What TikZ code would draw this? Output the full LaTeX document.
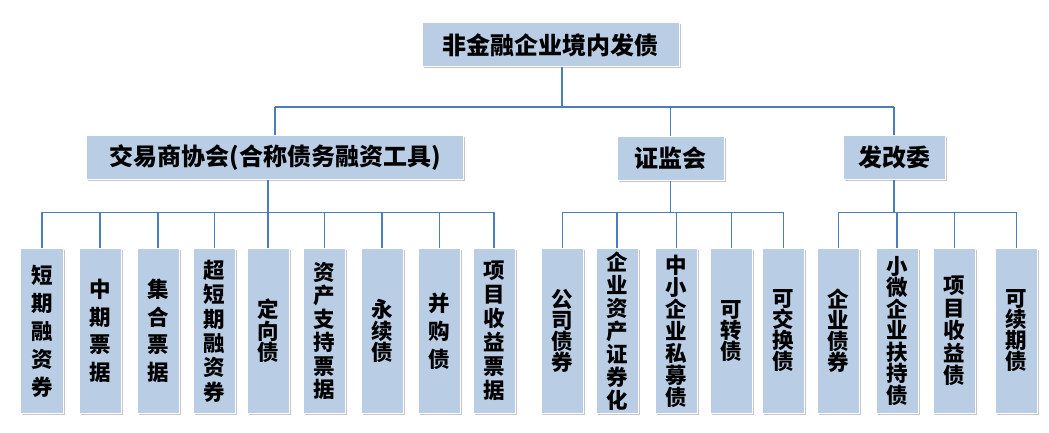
\documentclass[tikz,border=0pt]{standalone}
\usepackage{fontspec}
\newfontfamily\cjk{Noto Sans CJK SC}
\usetikzlibrary{shadows}
\definecolor{boxfill}{HTML}{B9CDE5}
\definecolor{linkblue}{HTML}{4A7EBB}
\tikzset{
  box/.style={fill=boxfill, draw=white, line width=1bp, inner sep=0pt,
    drop shadow={shadow xshift=1.5bp, shadow yshift=-1.5bp, opacity=0.45}},
  head/.style={box, minimum height=44bp,
    font={\cjk\bfseries\fontsize{24bp}{28bp}\selectfont}},
  leaf/.style={box, minimum width=42bp, minimum height=164bp, align=center},
  link/.style={draw=linkblue, line width=1.5bp}
}
\begin{document}
\begin{tikzpicture}[x=1bp,y=-1bp]
\useasboundingbox (0,0) rectangle (1049,433);
\node[head, minimum width=257bp] (top) at (550.5,45) {非金融企业境内发债};
\node[head, minimum width=376bp] (jys) at (275,157.5) {交易商协会(合称债务融资工具)};
\node[head, minimum width=107bp] (zjh) at (670.5,158.5) {证监会};
\node[head, minimum width=102bp] (fgw) at (894,157.5) {发改委};
\coordinate (hub) at (562,107);
\coordinate (bus) at (0,212.5);

% leaves: x / name / label / line pitch
\foreach \px/\nm/\lbl/\sk in {
  42/l1/{短\\期\\融\\资\\券}/28bp, 100/l2/{中\\期\\票\\据}/27.5bp,
  158/l3/{集\\合\\票\\据}/27.5bp, 214.5/l4/{超\\短\\期\\融\\资\\券}/24.4bp,
  268/l5/{定\\向\\债}/21.5bp, 324.5/l6/{资\\产\\支\\持\\票\\据}/23.4bp,
  382/l7/{永\\续\\债}/21.5bp, 439.5/l8/{并\\购\\债}/28bp,
  494/l9/{项\\目\\收\\益\\票\\据}/24bp,
  562.5/m1/{公\\司\\债\\券}/21bp, 617/m2/{企\\业\\资\\产\\证\\券\\化}/23bp,
  676.5/m3/{中\\小\\企\\业\\私\\募\\债}/22bp, 731.5/m4/{可\\转\\债}/21bp,
  783.5/m5/{可\\交\\换\\债}/21bp,
  838.5/n1/{企\\业\\债\\券}/21bp, 897/n2/{小\\微\\企\\业\\扶\\持\\债}/21.5bp,
  954.5/n3/{项\\目\\收\\益\\债}/22.5bp, 1016.5/n4/{可\\续\\期\\债}/21bp}
  \node[leaf, font={\cjk\bfseries\fontsize{21.5bp}{\sk}\selectfont\lineskiplimit=-20bp}]
    (\nm) at (\px,331) {\lbl};

\draw[link] (hub |- top.south) -- (hub);
\draw[link] (jys.north |- hub) -- (fgw.north |- hub);
\draw[link] (jys.north |- hub) -- (jys.north);
\draw[link] (zjh.north |- hub) -- (zjh.north);
\draw[link] (fgw.north |- hub) -- (fgw.north);

\draw[link] (jys.south -| l5) -- (l5 |- bus);
\draw[link] (l1 |- bus) -- (l9 |- bus);
\foreach \i in {1,...,9}
  \draw[link] (l\i |- bus) -- (l\i.north);

\draw[link] (zjh.south) -- (zjh.south |- bus);
\draw[link] (m1 |- bus) -- (m5 |- bus);
\foreach \i in {1,...,5}
  \draw[link] (m\i |- bus) -- (m\i.north);

\draw[link] (fgw.south) -- (fgw.south |- bus);
\draw[link] (n1 |- bus) -- (n4 |- bus);
\foreach \i in {1,...,4}
  \draw[link] (n\i |- bus) -- (n\i.north);
\end{tikzpicture}
\end{document}
